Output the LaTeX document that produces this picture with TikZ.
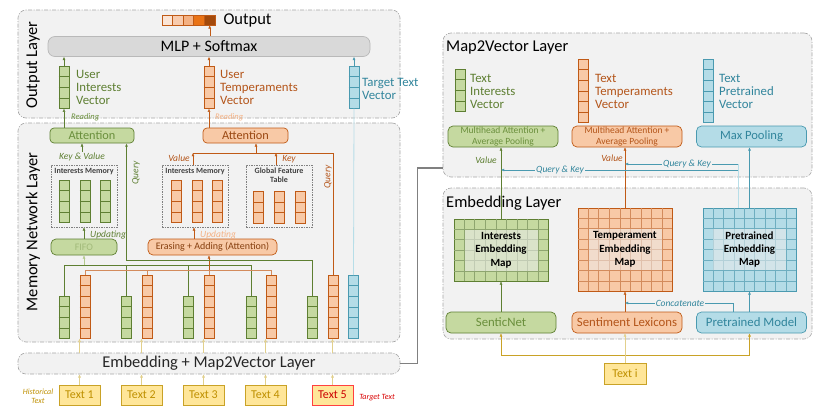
\documentclass[tikz,border=0pt]{standalone}
\usepackage{fontspec}
\setmainfont{Carlito}
\usetikzlibrary{positioning,calc,arrows.meta}

\definecolor{panelgrey}{HTML}{F2F2F2}
\definecolor{paneledge}{HTML}{A6A6A6}
\definecolor{grfill}{HTML}{C5D9A0}
\definecolor{grline}{HTML}{5E7F32}
\definecolor{grtext}{HTML}{6A8F3C}
\definecolor{grpale}{HTML}{B3C98C}
\definecolor{orfill}{HTML}{F8C9A6}
\definecolor{orline}{HTML}{C05A16}
\definecolor{ortext}{HTML}{B4551A}
\definecolor{orpale}{HTML}{F4B183}
\definecolor{blfill}{HTML}{B4DCE7}
\definecolor{blline}{HTML}{4A9AB0}
\definecolor{bltext}{HTML}{31859C}
\definecolor{blpale}{HTML}{B7DEE8}
\definecolor{txfill}{HTML}{FFE699}
\definecolor{txline}{HTML}{C9A227}
\definecolor{txtext}{HTML}{BF9000}
\definecolor{txpale}{HTML}{E2D08C}
\definecolor{mlpgrey}{HTML}{D9D9D9}
\definecolor{outa}{HTML}{FBE5D6}
\definecolor{outb}{HTML}{F8CBAD}
\definecolor{outc}{HTML}{F4B183}
\definecolor{outd}{HTML}{E97316}
\definecolor{oute}{HTML}{A34A0C}

% stack of cells: name, x, top y, cells, fill, line
\newcommand{\cellvec}[6]{%
  \node[cellbox, fill=#5, draw=#6, minimum height=#4*10.5pt, anchor=north] (#1) at (#2,#3) {};
  \foreach \k in {2,...,#4}
    \draw[#6, line width=0.45pt] ($(#1.north west)!{(\k-1)/#4}!(#1.south west)$) -- ($(#1.north east)!{(\k-1)/#4}!(#1.south east)$);
}
% grid over a map node: name, cols, rows, line
\newcommand{\gridmap}[4]{%
  \foreach \k in {2,...,#2}
    \draw[#4, line width=0.45pt] ($(#1.north west)!{(\k-1)/#2}!(#1.north east)$) -- ($(#1.south west)!{(\k-1)/#2}!(#1.south east)$);
  \foreach \k in {2,...,#3}
    \draw[#4, line width=0.45pt] ($(#1.north west)!{(\k-1)/#3}!(#1.south west)$) -- ($(#1.north east)!{(\k-1)/#3}!(#1.south east)$);
}

\begin{document}
\begin{tikzpicture}[x=1pt, y=-1pt,
	>={Latex[length=3.2pt,width=2.8pt]},
	panel/.style={
		rectangle,
		rounded corners=8pt,
		fill=panelgrey,
		draw=paneledge,
		line width=0.6pt,
		dash pattern=on 4pt off 1.5pt on 1pt off 1.5pt,
		inner sep=0pt,
		},
	rbox/.style={rectangle, rounded corners=4pt, inner sep=0pt, line width=0.7pt},
	gbox/.style={rbox, fill=grfill, draw=grline, text=grtext},
	obox/.style={rbox, fill=orfill, draw=orline, text=ortext},
	bbox/.style={rbox, fill=blfill, draw=blline, text=bltext},
	cellbox/.style={rectangle, minimum width=10pt, inner sep=0pt, line width=0.7pt},
	membox/.style={rectangle, draw=gray, dash pattern=on 1.5pt off 1pt, line width=0.6pt, inner sep=0pt},
	memtitle/.style={inner sep=0pt, align=center, text=black!75, font=\fontsize{8}{9}\selectfont\bfseries},
	mapbox/.style={rectangle, inner sep=0pt, line width=0.8pt},
	maplabel/.style={rectangle, inner sep=0pt, fill=gray!15, fill opacity=0.55, text opacity=1, align=center, minimum width=73pt, minimum height=41pt, font=\fontsize{11}{13.3}\selectfont\bfseries},
	textbox/.style={rectangle, fill=txfill, draw=txline, text=txtext, line width=0.9pt, minimum width=41pt, minimum height=20pt, inner sep=0pt, font=\fontsize{12}{12}\selectfont},
	vlabel/.style={anchor=west, align=left, inner sep=0pt, font=\fontsize{12.8}{13}\selectfont},
	title/.style={inner sep=0pt, font=\fontsize{16.5}{16.5}\selectfont},
	note/.style={inner sep=1pt, font=\fontsize{9.5}{10}\selectfont\itshape},
	line/.style={line width=0.8pt},
	]

	\fill[white] (0,0) rectangle (821,410);
	\useasboundingbox (0,0) rectangle (821,410);

	% layers
	\node(outpanel)[panel, minimum width=382pt, minimum height=108pt] at (209,64) {};
	\node(mempanel)[panel, minimum width=382pt, minimum height=219pt] at (209,232.5) {};
	\node(embpanel)[panel, minimum width=382pt, minimum height=21pt, text=black!85, font=\fontsize{16.5}{16.5}\selectfont] at (209,363.5) {Embedding + Map2Vector Layer};
	\node(m2vpanel)[panel, minimum width=369pt, minimum height=144pt] at (627.5,105) {};
	\node(embedpanel)[panel, minimum width=369pt, minimum height=151pt] at (627.5,263.5) {};

	\node(outtitle)[title, rotate=90] at (33,65) {Output Layer};
	\node(memtitle)[title, rotate=90] at (33,232) {Memory Network Layer};
	\node(m2vtitle)[title, anchor=base west] at (446,51.5) {Map2Vector Layer};
	\node(embtitle)[title, anchor=base west] at (446,207) {Embedding Layer};

	% output layer
	\node(mlp)[rbox, fill=mlpgrey, draw=gray!55, rounded corners=7pt, minimum width=322pt, minimum height=20pt, font=\fontsize{16}{16}\selectfont] at (209,46.5) {MLP + Softmax};
	\foreach \i/\c in {1/outa, 2/outb, 3/outc, 4/outd, 5/oute}
		\node(out\i)[cellbox, minimum width=10.6pt, minimum height=10pt, fill=\c, draw=orline] at ({162+5.3+10.6*(\i-1)},20) {};
	\node(outlbl)[title, right=8pt of out5] {Output};
	\path (mlp.north -| out5) edge[->, orline] (out5.south);

	\cellvec{uiv}{64}{66}{4}{grfill}{grline}
	\cellvec{utv}{209}{66}{4}{orfill}{orline}
	\cellvec{ttv}{354}{66}{4}{blfill}{blline}
	\node(uivlbl)[vlabel, text=grline] at (76,87) {User\\Interests\\Vector};
	\node(utvlbl)[vlabel, text=ortext] at (220,87) {User\\Temperaments\\Vector};
	\node(ttvlbl)[vlabel, text=bltext] at (362,89) {Target Text\\Vector};
	\path (uiv.north) edge[->, grline] (uiv.north |- mlp.south);
	\path (utv.north) edge[->, orline] (utv.north |- mlp.south);
	\path (ttv.north) edge[->, blline] (ttv.north |- mlp.south);

	% memory network layer
	\node(gatt)[gbox, minimum width=84pt, minimum height=15pt, font=\fontsize{12.3}{12.3}\selectfont] at (92,135.5) {Attention};
	\node(oatt)[obox, minimum width=85pt, minimum height=15pt, text=orline!80!black, font=\fontsize{12.3}{12.3}\selectfont] at (245.5,135.5) {Attention};
	\path (gatt.north -| uiv) edge[->, grline] (uiv.south);
	\path (oatt.north -| utv) edge[->, orline] (utv.south);
	\node(greadlbl)[note, anchor=west, text=grtext, font=\fontsize{8.5}{9}\selectfont\itshape] at (70,117) {Reading};
	\node(oreadlbl)[note, anchor=west, text=orpale, font=\fontsize{8.5}{9}\selectfont\itshape] at (214,117) {Reading};

	\node(gmem)[membox, minimum width=66pt, minimum height=62pt] at (84,196) {};
	\node(gmemlbl)[memtitle, below=3pt of gmem.north] {Interests Memory};
	\foreach \i/\x in {1/64, 2/85, 3/105.5}{
		\cellvec{gm\i}{\x}{180}{4}{grfill}{grline}
	}
	\node(omem)[membox, minimum width=66pt, minimum height=62pt] at (195,196) {};
	\node(omemlbl)[memtitle, below=3pt of omem.north] {Interests Memory};
	\foreach \i/\x in {1/176.5, 2/197, 3/217.5}{
		\cellvec{om\i}{\x}{180}{4}{orfill}{orline}
	}
	\node(gft)[membox, minimum width=66pt, minimum height=62pt] at (279,196) {};
	\node(gftlbl)[memtitle, below=3pt of gft.north] {Global Feature\\Table};
	\foreach \i/\x in {1/258.5, 2/279, 3/300}{
		\cellvec{gf\i}{\x}{191}{3}{orfill}{orline}
	}

	\node(kvlbl)[note, text=grline] at (82,157) {Key \& Value};
	\path (kvlbl.north) edge[->, grline] (kvlbl.north |- gatt.south);

	% vectors of the five texts
	\foreach \i/\gx/\ox in {1/64/85, 2/126.5/147, 3/188/209, 4/251/271.5, 5/312/333}{
		\cellvec{gv\i}{\gx}{296}{4}{grfill}{grline}
		\cellvec{ov\i}{\ox}{275}{6}{orfill}{orline}
	}
	\cellvec{bv}{353.5}{275}{6}{blfill}{blline}

	\coordinate (okv) at (193,153);
	\coordinate (okey) at (276,153);
	\coordinate (oatin) at (256,153);
	\draw[orline, line] (ov5.north) |- (okv);
	\path (okv |- omem.north) edge[->, orline] (okv);
	\path (okey |- gft.north) edge[->, orline] (okey);
	\path (oatin) edge[->, orline] (oatin |- oatt.south);
	\node(vallbl)[note, text=ortext] at (179,158) {Value};
	\node(keylbl)[note, text=ortext] at (289,159) {Key};
	\node(oqlbl)[note, text=ortext, rotate=90] at (328,177) {Query};

	\node(fifo)[gbox, minimum width=66pt, minimum height=16pt, rounded corners=5pt, text=grpale!80!grline, font=\fontsize{10}{10}\selectfont] at (84,247) {FIFO};
	\node(erase)[obox, minimum width=129pt, minimum height=16pt, rounded corners=5pt, text=orline!70!black, font=\fontsize{10}{10}\selectfont] at (212.5,247) {Erasing + Adding (Attention)};
	\path (fifo.north) edge[->, grline] (fifo.north |- gmem.south);
	\coordinate (oup) at (194,247);
	\path (oup |- erase.north) edge[->, orline] (oup |- omem.south);
	\node(gupdlbl)[note, anchor=west, text=grline] at (89,235) {Updating};
	\node(oupdlbl)[note, anchor=west, text=orpale] at (199,235) {Updating};

	\coordinate (gbus) at (64,265);
	\coordinate (obus) at (85,270);
	\draw[grline, line] (gv1.north) |- (gbus -| gv4) -- (gv4.north);
	\foreach \i in {2,3}
		\draw[grline, line] (gv\i.north) -- (gv\i.north |- gbus);
	\draw[orline!70, line] (ov1.north) |- (obus -| ov4) -- (ov4.north);
	\foreach \i in {2,3}
		\draw[orline!70, line] (ov\i.north) -- (ov\i.north |- obus);
	\path (gbus -| fifo) edge[->, grpale] (fifo.south);
	\path (obus -| ov3) edge[->, orline] (erase.south -| ov3);

	\coordinate (gq) at (126.5,260);
	\draw[->, grline, line] (gv5.north) |- (gq) -- (gq |- gatt.south);
	\node(gqlbl)[note, text=grline, rotate=90] at (136,173) {Query};
	\draw[blpale, line] (bv.north) -- (ttv.south);

	% texts
	\foreach \i/\x in {1/79.5, 2/141.5, 3/203.5, 4/265.5}
		\node(tx\i)[textbox] at (\x,395) {Text \i};
	\node(tx5)[textbox, draw=red!75, text=red!80!black] at (332.5,395) {Text 5};
	\foreach \i in {1,...,5}{
		\path (tx\i.north) edge[->, txpale] (tx\i.north |- embpanel.south);
		\path (tx\i.north |- embpanel.north) edge[->, txpale] (tx\i.north |- ov\i.south);
	}
	\node(histlbl)[note, text=txtext, align=center, font=\fontsize{8}{8.5}\selectfont\itshape] at (38,396) {Historical\\Text};
	\node(targlbl)[note, text=red!85!black, font=\fontsize{8}{8.5}\selectfont\itshape] at (377,398) {Target Text};

	% link to the right part
	\coordinate (linkin) at ($(m2vpanel.west)+(0,63)$);
	\draw[gray, line width=1.4pt] (embpanel.east) -- ++(17,0) |- (linkin);

	% map2vector layer
	\cellvec{tiv}{460}{69}{4}{grfill}{grline}
	\cellvec{tmv}{583.5}{59}{6}{orfill}{orline}
	\cellvec{tpv}{708}{59}{6}{blfill}{blline}
	\node(tivlbl)[vlabel, text=grline] at (470,91) {Text\\Interests\\Vector};
	\node(tmvlbl)[vlabel, text=ortext] at (595,91) {Text\\Temperaments\\Vector};
	\node(tpvlbl)[vlabel, text=bltext] at (719,91) {Text\\Pretrained\\Vector};

	\node(mha1)[gbox, minimum width=110pt, minimum height=21pt, rounded corners=5pt, align=center, font=\fontsize{9.5}{10.5}\selectfont] at (503,136.5) {Multihead Attention +\\Average Pooling};
	\node(mha2)[obox, minimum width=110pt, minimum height=21pt, rounded corners=5pt, align=center, font=\fontsize{9.5}{10.5}\selectfont] at (627,136.5) {Multihead Attention +\\Average Pooling};
	\node(maxpool)[bbox, minimum width=110pt, minimum height=21pt, rounded corners=5pt, font=\fontsize{12.6}{12.6}\selectfont] at (751.5,136.5) {Max Pooling};

	% embedding layer
	\node(imap)[mapbox, fill=grfill, draw=grline, minimum width=94pt, minimum height=62pt] at (501,250) {};
	\gridmap{imap}{9}{6}{grline!70}
	\node(imaptxt)[maplabel] at (imap.center) {Interests\\Embedding\\Map};
	\node(tmap)[mapbox, fill=orfill, draw=orline, minimum width=94pt, minimum height=83pt] at (625,249.5) {};
	\gridmap{tmap}{9}{8}{orline!70}
	\node(tmaptxt)[maplabel] at (tmap.center) {Temperament\\Embedding\\Map};
	\node(pmap)[mapbox, fill=blfill, draw=blline, minimum width=93pt, minimum height=83pt] at (749.5,249.5) {};
	\gridmap{pmap}{9}{8}{blline!80}
	\node(pmaptxt)[maplabel] at (pmap.center) {Pretrained\\Embedding\\Map};

	\node(senticnet)[gbox, minimum width=110pt, minimum height=21pt, rounded corners=5pt, font=\fontsize{12.8}{12.8}\selectfont] at (501,322.5) {SenticNet};
	\node(lexicons)[obox, minimum width=110pt, minimum height=21pt, rounded corners=5pt, font=\fontsize{12.8}{12.8}\selectfont] at (627,322.5) {Sentiment Lexicons};
	\node(premodel)[bbox, minimum width=110pt, minimum height=21pt, rounded corners=5pt, font=\fontsize{12.8}{12.8}\selectfont] at (751.5,322.5) {Pretrained Model};

	\path (senticnet.north) edge[->, grline] (imap.south);
	\path (lexicons.north -| tmap) edge[->, orline] (tmap.south);
	\path (premodel.north -| pmap) edge[->, blline] (pmap.south);
	\coordinate (concat) at (733,303);
	\draw[->, blline] (concat |- premodel.north) -- (concat) -- (concat -| tmap);
	\node(concatlbl)[note, fill=panelgrey, text=bltext] at (680,303) {Concatenate};

	\path (imap.north) edge[->, grline] (imap.north |- mha1.south);
	\path (tmap.north) edge[->, orline] (tmap.north |- mha2.south);
	\path (pmap.north) edge[->, blline] (pmap.north |- maxpool.south);
	\coordinate (qka) at (738,164);
	\coordinate (qkb) at (738,170);
	\draw[blpale] (qka |- pmap.north) -- (qka);
	\draw[->, blline] (qka) -- (qka -| tmap);
	\draw[->, blline] (qkb) -- (qkb -| imap);
	\node(qkalbl)[note, fill=panelgrey, text=bltext] at (687,164) {Query \& Key};
	\node(qkblbl)[note, fill=panelgrey, text=bltext] at (560,170) {Query \& Key};
	\node(gvallbl)[note, text=grline] at (486,160) {Value};
	\node(ovallbl)[note, text=ortext] at (612,158) {Value};

	\node(texti)[textbox, minimum width=42pt, minimum height=21pt] at (625,373.5) {Text i};
	\coordinate (tibus) at (625,355);
	\draw[->, txline] (tibus) -| (senticnet.south);
	\draw[->, txline] (tibus) -| (premodel.south -| pmap);
	\path (texti.north) edge[->, txpale] (texti.north |- lexicons.south);

\end{tikzpicture}
\end{document}
